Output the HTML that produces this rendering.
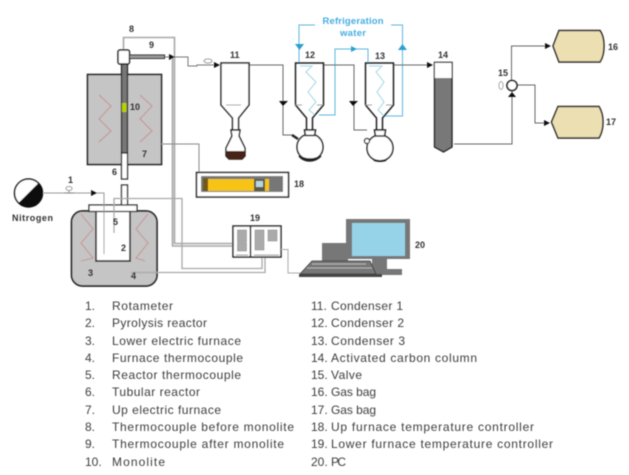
<!DOCTYPE html>
<html><head><meta charset="utf-8">
<style>
html,body{margin:0;padding:0;background:#fff;width:629px;height:475px;overflow:hidden}
svg{display:block}
text{font-family:"Liberation Sans",sans-serif}
.n{font-size:9px;font-weight:bold;fill:#333}
.l{font-size:12px;fill:#3c3c3c}
</style></head><body>
<svg width="629" height="475" viewBox="0 0 629 475" xmlns="http://www.w3.org/2000/svg">
<defs><filter id="b" x="-2%" y="-2%" width="104%" height="104%"><feGaussianBlur stdDeviation="0.45"/></filter></defs>
<g filter="url(#b)">
<!-- upper furnace -->
<rect x="87.5" y="74.5" width="74" height="90" fill="#c5c5c5" stroke="#222" stroke-width="1.6"/>
<path d="M99 95L111 106L99 119L111 131L99 142M140 95L152 106L140 119L152 131L140 142" fill="none" stroke="#c98a8a" stroke-width="0.9"/>
<!-- thermocouple grey lines -->
<path d="M123.500 50V37.500H174.500V243.500H233" fill="none" stroke="#a8a8a8" stroke-width="1.600"/>
<path d="M172.500 58V246H233" fill="none" stroke="#a8a8a8" stroke-width="1.600"/>
<!-- tube -->
<rect x="121.500" y="64" width="6" height="89" fill="#777" stroke="#222" stroke-width="1.300"/>
<rect x="121.500" y="153" width="6" height="26" fill="#fff" stroke="#222" stroke-width="1.300"/>
<rect x="121.500" y="185" width="6" height="21" fill="#fff" stroke="#222" stroke-width="1.300"/>
<rect x="122" y="103" width="4.500" height="9" fill="#b7d000"/>
<rect x="118" y="50" width="11.500" height="14" rx="2" fill="#fff" stroke="#222" stroke-width="1.500"/>
<rect x="129.500" y="55" width="35" height="3.500" fill="#999" stroke="#222" stroke-width="1"/>
<!-- lower furnace -->
<rect x="71.500" y="211" width="85.500" height="75" rx="11" fill="#c5c5c5" stroke="#222" stroke-width="1.700"/>
<rect x="96" y="211" width="34" height="50" fill="#fff" stroke="#222" stroke-width="1.600"/>
<rect x="89" y="205" width="48" height="6.500" fill="#fff" stroke="#222" stroke-width="1.300"/>
<path d="M81 214L93 229L81 243L93 258L81 261M148 214L136 229L148 243L136 258L145 261" fill="none" stroke="#c98a8a" stroke-width="0.900"/>
<!-- nitrogen -->
<circle cx="28.500" cy="193" r="14" fill="#fff" stroke="#111" stroke-width="1.500"/>
<path d="M38.400 183.100A14 14 0 0 1 18.600 202.900Z" fill="#111"/>
<path d="M43 193H104V254" fill="none" stroke="#999" stroke-width="1"/>
<path d="M91 190L97 193L91 196Z" fill="#111"/>
<ellipse cx="69" cy="188.500" rx="3" ry="2" fill="#fff" stroke="#777" stroke-width="0.800"/>
<path d="M64 193H74M69 190V193" stroke="#777" stroke-width="0.700"/>
<!-- reactor thermocouple -->
<path d="M114 233V198.500H182V268.500H262V257" fill="none" stroke="#a8a8a8" stroke-width="1.300"/>
<path d="M131 272.500H265V257" fill="none" stroke="#a8a8a8" stroke-width="1.300"/>
<!-- up furnace line -->
<path d="M161 144H199V172" fill="none" stroke="#888" stroke-width="1"/>
<!-- line to 11 -->
<path d="M165 57H188V66H197V65H215" fill="none" stroke="#777" stroke-width="1"/>
<path d="M169 54L175 57L169 60Z" fill="#111"/>
<ellipse cx="208" cy="61" rx="4" ry="2" fill="#fff" stroke="#777" stroke-width="0.800"/>
<path d="M214 62L220 65L214 68Z" fill="#111"/>
<!-- water -->
<g fill="none" stroke="#5cb8de" stroke-width="1">
<path d="M315 25H299V63"/>
<path d="M391 25H402.500V116H384"/>
<path d="M319 115H335V49H368V62"/>
</g>
<g fill="none" stroke="#a3d6e6" stroke-width="1">
<path d="M300 66H312L306 72L316 82L308 92L316 102L309 110L316 116"/>
<path d="M369 66H382L376 72L384 82L377 92L384 102L378 110L384 116"/>
</g>
<path d="M295 44H304L299.500 50Z" fill="#2c9fd0"/>
<path d="M351 46L357 49L351 52Z" fill="#2c9fd0"/>
<path d="M398 50H407L402.500 44Z" fill="#2c9fd0"/>
<text x="322.500" y="24" textLength="61" fill="#45ade0" style="font-size:9.500px;font-weight:bold">Refrigeration</text>
<text x="340" y="36" textLength="26" fill="#45ade0" style="font-size:9.500px;font-weight:bold">water</text>
<!-- process lines -->
<g fill="none" stroke="#666" stroke-width="1">
<path d="M249 65H283V135H292"/>
<path d="M323 65H354V130H367"/>
<path d="M394 65H430"/>
<path d="M454 144H512V91"/>
<path d="M511.500 80V46H548"/>
<path d="M517 85H535V123H547"/>
</g>
<path d="M279 101H288L283 106Z M349 101H358L353 106Z" fill="#111"/>
<path d="M427 62L433 65L427 68Z" fill="#111"/>
<path d="M545 43L551 46L545 49Z M544 120L550 123L544 126Z" fill="#111"/>
<path d="M508 97L512 92L516 97Z" fill="#111"/>
<!-- condenser 11 -->
<path d="M221 63H249V105L238.500 118V130H232.500V118L221 105Z" fill="#fff" stroke="#222" stroke-width="1.500"/>
<path d="M226 105H241" stroke="#888" stroke-width="0.800"/>
<path d="M231 130H240L239 136L245 148V156L242 159H229L226 156V148L232 136Z" fill="#fff" stroke="#222" stroke-width="1.400"/>
<path d="M226.500 151H244.500V156L242 159H229L226.500 156Z" fill="#4a2415"/>
<!-- condenser 12 -->
<g fill="none" stroke="#222" stroke-width="1.500">
<path d="M306.500 130V118L295.500 105V63H323.500V105L312.500 118V130"/>
<path d="M295 105H302M317 105H323" stroke="#888" stroke-width="0.800"/>
<circle cx="310" cy="147" r="13" fill="#fff"/>
<path d="M304.500 130H315.500L314.500 135.500H305.500Z" fill="#fff"/>
<path d="M299 156Q310 162 321 156Q316 161 310 161Q303 161 299 156Z" fill="#222"/>
<path d="M298 139L292 135" stroke-width="2.500"/>
</g>
<!-- condenser 13 -->
<g fill="none" stroke="#222" stroke-width="1.500">
<path d="M376.500 130V118L365.500 105V63H393.500V105L382.500 118V130"/>
<path d="M365 105H372M386 105H392" stroke="#888" stroke-width="0.800"/>
<circle cx="380" cy="148" r="13" fill="#fff"/>
<path d="M374.500 130H385.500L384.500 136H375.500Z" fill="#fff"/>
<path d="M374 160Q380 162 386 160" stroke-width="2"/>
<circle cx="367" cy="141" r="2.500" fill="#fff" stroke-width="1.200"/>
</g>
<!-- column 14 -->
<path d="M434.500 62.500H452V147L443.500 152L434.500 147Z" fill="#787878" stroke="#222" stroke-width="1.400"/>
<rect x="435" y="63" width="16.500" height="15" fill="#fff"/>
<!-- valve -->
<circle cx="512" cy="85.500" r="5" fill="#fff" stroke="#111" stroke-width="1.600"/>
<ellipse cx="501" cy="85.500" rx="2" ry="4" fill="#fff" stroke="#888" stroke-width="0.800"/>
<!-- bags -->
<path d="M559 30.500H600Q604 36 604 46Q604 56 600 62H559L553 46Z" fill="#ecdfb2" stroke="#222" stroke-width="1.500"/>
<path d="M558 106.500H599Q603 113 603 122Q603 131 599 138H558L551.500 122Z" fill="#ecdfb2" stroke="#222" stroke-width="1.500"/>
<!-- controller 18 -->
<rect x="196.500" y="172.500" width="92" height="24.500" fill="#fff" stroke="#222" stroke-width="1.500"/>
<rect x="201" y="176" width="82" height="16" fill="#777"/>
<rect x="208" y="179" width="46" height="12" fill="#f6c313"/>
<rect x="203" y="178" width="5" height="13" fill="#6f5a14"/>
<rect x="254" y="179" width="11" height="12" fill="#5a5a40"/>
<rect x="256" y="181" width="7" height="6" fill="#b8d4e6"/>
<rect x="265" y="179" width="4" height="12" fill="#f6c313"/>
<!-- controller 19 -->
<rect x="233" y="226" width="48" height="31" fill="#fff" stroke="#222" stroke-width="1.500"/>
<path d="M250.500 226V257" stroke="#222" stroke-width="1.500"/>
<rect x="237.500" y="230" width="9" height="12" fill="#aaa" stroke="#888" stroke-width="0.600"/>
<rect x="237.500" y="243" width="9" height="8" fill="#aaa" stroke="#888" stroke-width="0.600"/>
<rect x="255" y="230" width="9" height="20" fill="#aaa" stroke="#888" stroke-width="0.600"/>
<rect x="268" y="230" width="9" height="11" fill="#aaa" stroke="#888" stroke-width="0.600"/>
<path d="M236 255H248M254 255H279" stroke="#999" stroke-width="1"/>
<path d="M281 249.500H288V273H300" fill="none" stroke="#aaa" stroke-width="1"/>
<!-- PC -->
<rect x="322" y="243" width="26" height="19" fill="#777"/>
<rect x="346" y="219" width="64" height="40" fill="#777"/>
<rect x="352" y="223" width="53" height="33" fill="#96d3e8"/>
<rect x="372" y="259" width="15" height="11" fill="#777"/>
<rect x="372" y="269" width="30" height="6" fill="#777"/>
<path d="M312 261H370L376 274H300Z" fill="#777" stroke="#333" stroke-width="0.800"/>
<rect x="299" y="274" width="83" height="3" fill="#444"/>
<path d="M312 264H366M307 268H372" stroke="#ccc" stroke-width="0.700"/>
</g>
<g filter="url(#b)">
<text class="n" x="129" y="32">8</text>
<text class="n" x="149" y="48">9</text>
<text class="n" x="130" y="110">10</text>
<text class="n" x="142" y="157">7</text>
<text class="n" x="112" y="175">6</text>
<text class="n" x="68" y="183">1</text>
<text class="n" x="113" y="225">5</text>
<text class="n" x="121" y="251">2</text>
<text class="n" x="88" y="276">3</text>
<text class="n" x="131" y="279">4</text>
<text x="12" y="221" textLength="41" style="font-size:9px;font-weight:bold;fill:#333">Nitrogen</text>
<text class="n" x="230" y="58">11</text>
<text class="n" x="305" y="58">12</text>
<text class="n" x="375" y="59">13</text>
<text class="n" x="438" y="58">14</text>
<text class="n" x="498" y="76">15</text>
<text class="n" x="608" y="50">16</text>
<text class="n" x="606" y="125">17</text>
<text class="n" x="294" y="187">18</text>
<text class="n" x="250" y="221">19</text>
<text class="n" x="415" y="248">20</text>
</g>
<g filter="url(#b)">
<text class="l" x="85" y="310">1.</text><text class="l" x="112" y="310" textLength="61">Rotameter</text>
<text class="l" x="85" y="327">2.</text><text class="l" x="112" y="327" textLength="95">Pyrolysis reactor</text>
<text class="l" x="85" y="345">3.</text><text class="l" x="112" y="345" textLength="129">Lower electric furnace</text>
<text class="l" x="85" y="362">4.</text><text class="l" x="112" y="362" textLength="131">Furnace thermocouple</text>
<text class="l" x="85" y="379">5.</text><text class="l" x="112" y="379" textLength="129">Reactor thermocouple</text>
<text class="l" x="85" y="396">6.</text><text class="l" x="112" y="396" textLength="88">Tubular reactor</text>
<text class="l" x="85" y="414">7.</text><text class="l" x="112" y="414" textLength="109">Up electric furnace</text>
<text class="l" x="85" y="431">8.</text><text class="l" x="112" y="431" textLength="182">Thermocouple before monolite</text>
<text class="l" x="85" y="448">9.</text><text class="l" x="112" y="448" textLength="172">Thermocouple after monolite</text>
<text class="l" x="85" y="466">10.</text><text class="l" x="112" y="466" textLength="53">Monolite</text>
<text class="l" x="311" y="310">11.</text><text class="l" x="331" y="310" textLength="72">Condenser 1</text>
<text class="l" x="311" y="327">12.</text><text class="l" x="331" y="327" textLength="73">Condenser 2</text>
<text class="l" x="311" y="345">13.</text><text class="l" x="331" y="345" textLength="74">Condenser 3</text>
<text class="l" x="311" y="362">14.</text><text class="l" x="331" y="362" textLength="146">Activated carbon column</text>
<text class="l" x="311" y="379">15.</text><text class="l" x="331" y="379" textLength="31">Valve</text>
<text class="l" x="311" y="396">16.</text><text class="l" x="331" y="396" textLength="45">Gas bag</text>
<text class="l" x="311" y="414">17.</text><text class="l" x="331" y="414" textLength="45">Gas bag</text>
<text class="l" x="311" y="431">18.</text><text class="l" x="331" y="431" textLength="203">Up furnace temperature controller</text>
<text class="l" x="311" y="448">19.</text><text class="l" x="331" y="448" textLength="222">Lower furnace temperature controller</text>
<text class="l" x="311" y="466">20.</text><text class="l" x="331" y="466" textLength="15">PC</text>
</g>
</svg>
</body></html>
